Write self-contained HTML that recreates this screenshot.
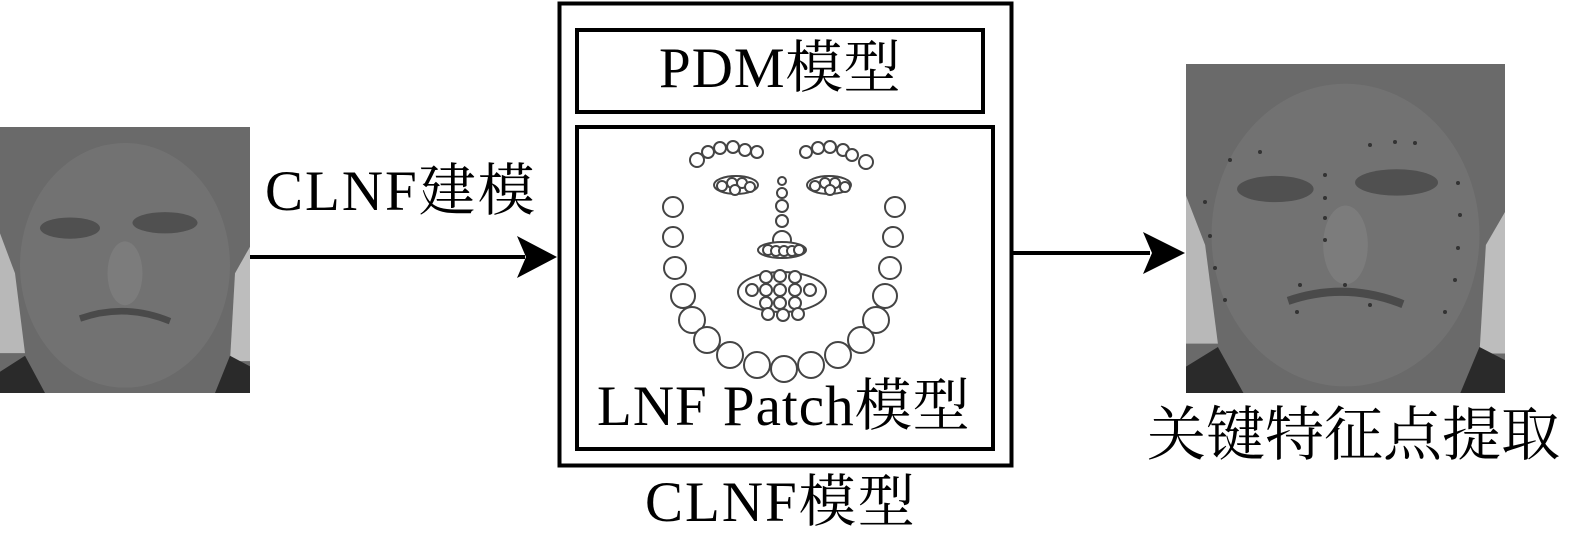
<!DOCTYPE html>
<html><head><meta charset="utf-8"><style>
html,body{margin:0;padding:0;background:#fff;}
body{width:1569px;height:545px;position:relative;overflow:hidden;font-family:"Liberation Serif","Noto Serif CJK SC",serif;}
.t{position:absolute;white-space:nowrap;color:#000;line-height:1;font-weight:normal;}
</style></head><body>
<svg width="1569" height="545" style="position:absolute;left:0;top:0">
<defs>
<g id="face">
<rect x="0" y="0" width="100" height="100" fill="#6a6a6a"/>
<polygon points="0,40 6,55 10,85 0,85" fill="#b8b8b8"/>
<polygon points="100,45 94,55 92,88 100,88" fill="#bdbdbd"/>
<ellipse cx="50" cy="52" rx="42" ry="46" fill="#727272"/>
<ellipse cx="28" cy="38" rx="12" ry="4" fill="#505050"/>
<ellipse cx="66" cy="36" rx="13" ry="4" fill="#505050"/>
<ellipse cx="50" cy="55" rx="7" ry="12" fill="#7c7c7c"/>
<path d="M32 72 Q50 66 68 73" stroke="#4a4a4a" stroke-width="2.5" fill="none"/>
<polygon points="0,92 10,86 18,100 0,100" fill="#2a2a2a"/>
<polygon points="100,90 92,86 86,100 100,100" fill="#2a2a2a"/>
</g>
</defs>
<g transform="translate(0,127) scale(2.5,2.66)"><use href="#face"/></g>
<g transform="translate(1186,64) scale(3.19,3.29)"><use href="#face"/></g>
<g fill="#333">
<circle cx="1205" cy="202" r="2"/><circle cx="1210" cy="236" r="2"/><circle cx="1215" cy="268" r="2"/><circle cx="1225" cy="300" r="2"/>
<circle cx="1325" cy="175" r="2"/><circle cx="1325" cy="198" r="2"/><circle cx="1325" cy="218" r="2"/><circle cx="1325" cy="240" r="2"/>
<circle cx="1458" cy="183" r="2"/><circle cx="1460" cy="215" r="2"/><circle cx="1458" cy="248" r="2"/><circle cx="1455" cy="280" r="2"/><circle cx="1445" cy="312" r="2"/>
<circle cx="1415" cy="143" r="2"/><circle cx="1395" cy="142" r="2"/><circle cx="1370" cy="145" r="2"/><circle cx="1260" cy="152" r="2"/><circle cx="1230" cy="160" r="2"/>
<circle cx="1300" cy="285" r="2"/><circle cx="1345" cy="285" r="2"/><circle cx="1370" cy="305" r="2"/><circle cx="1297" cy="312" r="2"/>
</g>
<rect x="559.5" y="3.5" width="452" height="462" fill="none" stroke="#000" stroke-width="4"/>
<rect x="577" y="30" width="406" height="82" fill="none" stroke="#000" stroke-width="4"/>
<rect x="577" y="127" width="416" height="322" fill="none" stroke="#000" stroke-width="4"/>
<line x1="250" y1="257" x2="525" y2="257" stroke="#000" stroke-width="4"/>
<polygon points="557,257 517,236 526,257 517,278" fill="#000"/>
<line x1="1013" y1="253" x2="1150" y2="253" stroke="#000" stroke-width="4"/>
<polygon points="1185,253 1143,232 1152,253 1143,274" fill="#000"/>
<g fill="#fff" stroke="#444" stroke-width="2">
<circle cx="673" cy="207" r="10"/><circle cx="673" cy="237" r="10"/><circle cx="675" cy="268" r="11"/><circle cx="683" cy="296" r="12"/><circle cx="692" cy="320" r="13"/><circle cx="707" cy="340" r="13"/><circle cx="730" cy="355" r="13"/><circle cx="757" cy="365" r="13"/><circle cx="784" cy="369" r="13"/>
<circle cx="895" cy="207" r="10"/><circle cx="893" cy="237" r="10"/><circle cx="890" cy="268" r="11"/><circle cx="885" cy="296" r="12"/><circle cx="876" cy="320" r="13"/><circle cx="861" cy="340" r="13"/><circle cx="838" cy="355" r="13"/><circle cx="811" cy="365" r="13"/>
<circle cx="697" cy="160" r="7"/><circle cx="708" cy="152" r="6"/><circle cx="720" cy="148" r="6"/><circle cx="733" cy="147" r="6"/><circle cx="745" cy="150" r="6"/><circle cx="757" cy="152" r="6"/>
<circle cx="806" cy="152" r="6"/><circle cx="818" cy="148" r="6"/><circle cx="830" cy="147" r="6"/><circle cx="843" cy="150" r="6"/><circle cx="852" cy="155" r="6"/><circle cx="866" cy="162" r="7"/>
<ellipse cx="736" cy="185" rx="22" ry="9"/><circle cx="722" cy="186" r="5"/><circle cx="732" cy="183" r="5"/><circle cx="742" cy="183" r="5"/><circle cx="750" cy="187" r="5"/><circle cx="735" cy="190" r="5"/>
<ellipse cx="829" cy="185" rx="22" ry="9"/><circle cx="815" cy="186" r="5"/><circle cx="825" cy="183" r="5"/><circle cx="835" cy="183" r="5"/><circle cx="845" cy="187" r="5"/><circle cx="830" cy="190" r="5"/>
<circle cx="782" cy="181" r="4"/><circle cx="782" cy="193" r="5"/><circle cx="782" cy="206" r="6"/><circle cx="782" cy="221" r="6"/><circle cx="782" cy="240" r="9"/>
<ellipse cx="782" cy="250" rx="24" ry="8"/><circle cx="768" cy="250" r="5"/><circle cx="776" cy="251" r="5"/><circle cx="784" cy="251" r="5"/><circle cx="792" cy="251" r="5"/><circle cx="799" cy="250" r="5"/>
<ellipse cx="782" cy="292" rx="44" ry="20"/>
<circle cx="766" cy="277" r="6"/><circle cx="780" cy="276" r="6"/><circle cx="795" cy="277" r="6"/>
<circle cx="752" cy="290" r="6"/><circle cx="766" cy="290" r="6"/><circle cx="780" cy="290" r="6"/><circle cx="795" cy="290" r="6"/><circle cx="810" cy="290" r="6"/>
<circle cx="766" cy="303" r="6"/><circle cx="780" cy="303" r="6"/><circle cx="795" cy="303" r="6"/>
<circle cx="768" cy="314" r="6"/><circle cx="783" cy="315" r="6"/><circle cx="798" cy="314" r="6"/>
</g>
</svg>
<div class="t" style="left:265px;top:163px;font-size:57px;letter-spacing:2px;">CLNF建模</div>
<div class="t" style="left:659px;top:40px;font-size:57px;letter-spacing:1px;">PDM模型</div>
<div class="t" style="left:597px;top:378px;font-size:57px;letter-spacing:1px;">LNF Patch模型</div>
<div class="t" style="left:645px;top:474px;font-size:57px;letter-spacing:2px;">CLNF模型</div>
<div class="t" style="left:1147px;top:406px;font-size:59px;">关键特征点提取</div>
</body></html>
